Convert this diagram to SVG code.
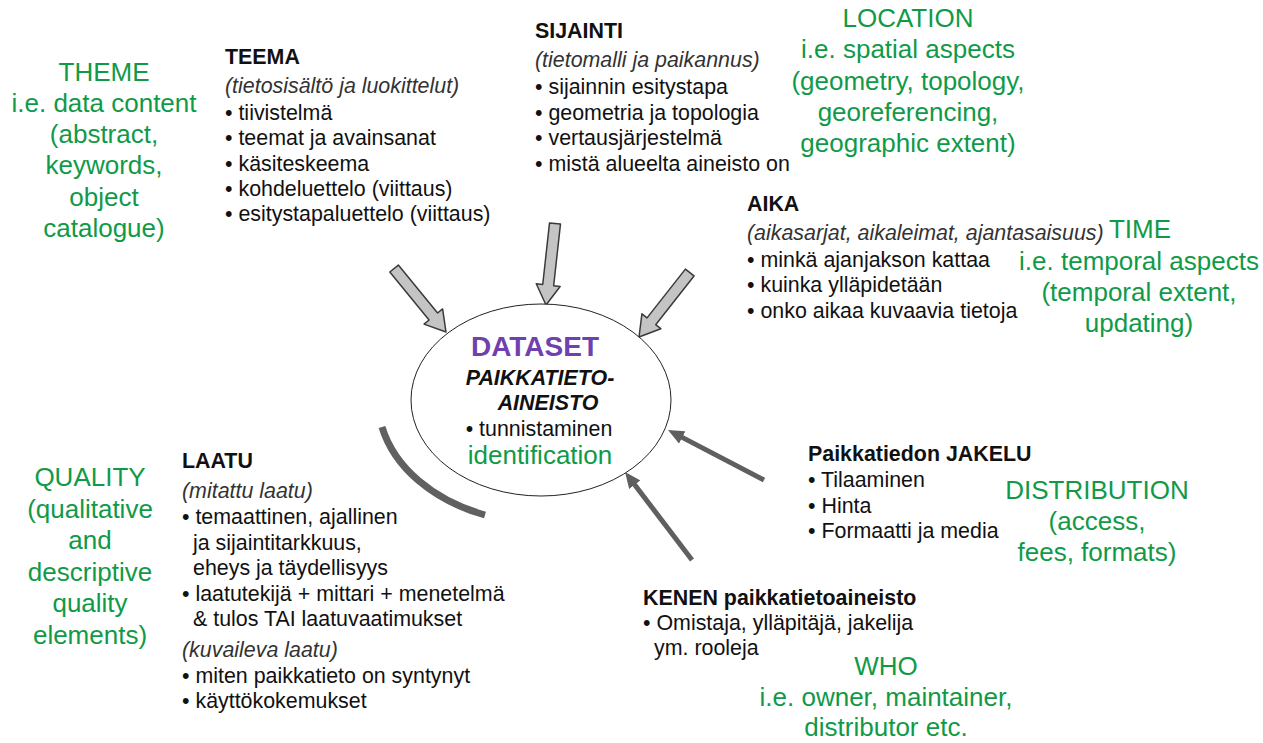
<svg xmlns="http://www.w3.org/2000/svg" width="1263" height="743" viewBox="0 0 1263 743">
<style>
.b{font-family:"Liberation Sans",Arial,sans-serif;font-size:21.4px;fill:#111}
.h{font-weight:bold}
.i{font-style:italic;fill:#333}
.g{font-family:"Liberation Sans",Arial,sans-serif;font-size:26px;fill:#109a48;text-anchor:middle}
.ln{stroke:#5f5f5f;stroke-width:5;fill:none}
</style>
<defs>
<polygon id="blk" points="-82,-5.5 -20,-5.5 -20,-12 0,0 -20,12 -20,5.5 -82,5.5" fill="#c4c4c4" stroke="#3a3a3a" stroke-width="1.5" stroke-linejoin="round"/>
<marker id="ah" markerUnits="userSpaceOnUse" markerWidth="18" markerHeight="14" refX="6" refY="7" orient="auto">
<path d="M0,0 L16,7 L0,14 z" fill="#5f5f5f"/>
</marker>
</defs>
<rect width="1263" height="743" fill="#fff"/>

<g id="connectors">
<use href="#blk" transform="translate(446,332) rotate(50.7)"/>
<use href="#blk" transform="translate(546,305) rotate(96.3)"/>
<use href="#blk" transform="translate(639,337) rotate(128.2)"/>
<line class="ln" x1="764" y1="480" x2="676.9" y2="434.6" marker-end="url(#ah)"/>
<line class="ln" x1="692" y1="560" x2="631.1" y2="480" marker-end="url(#ah)"/>
<path d="M382,427 A165,123 0 0 0 485,515" fill="none" stroke="#606060" stroke-width="7"/>
</g>

<g id="node-dataset">
<ellipse cx="541" cy="400" rx="130" ry="96" fill="#fff" stroke="#222" stroke-width="1"/>
<text x="535" y="356" font-family="Liberation Sans,Arial,sans-serif" font-size="28" font-weight="bold" fill="#7040b0" text-anchor="middle">DATASET</text>
<text class="b h" x="540" y="385" font-style="italic" text-anchor="middle">PAIKKATIETO-</text>
<text class="b h" x="548" y="410" font-style="italic" text-anchor="middle">AINEISTO</text>
<text class="b" x="539" y="436" text-anchor="middle">• tunnistaminen</text>
<text class="g" x="540" y="464">identification</text>
</g>

<g id="node-teema">
<text class="b h" x="225" y="64">TEEMA</text>
<text class="b i" x="225" y="93">(tietosisältö ja luokittelut)</text>
<text class="b" x="225" y="120">• tiivistelmä</text>
<text class="b" x="225" y="145">• teemat ja avainsanat</text>
<text class="b" x="225" y="171">• käsiteskeema</text>
<text class="b" x="225" y="196">• kohdeluettelo (viittaus)</text>
<text class="b" x="225" y="221">• esitystapaluettelo (viittaus)</text>
</g>

<g id="node-sijainti">
<text class="b h" x="535" y="38">SIJAINTI</text>
<text class="b i" x="535" y="67">(tietomalli ja paikannus)</text>
<text class="b" x="535" y="94">• sijainnin esitystapa</text>
<text class="b" x="535" y="120">• geometria ja topologia</text>
<text class="b" x="535" y="145">• vertausjärjestelmä</text>
<text class="b" x="535" y="171">• mistä alueelta aineisto on</text>
</g>

<g id="node-aika">
<text class="b h" x="747" y="211">AIKA</text>
<text class="b i" x="747" y="240">(aikasarjat, aikaleimat, ajantasaisuus)</text>
<text class="b" x="747" y="267">• minkä ajanjakson kattaa</text>
<text class="b" x="747" y="292">• kuinka ylläpidetään</text>
<text class="b" x="747" y="318">• onko aikaa kuvaavia tietoja</text>
</g>

<g id="node-laatu">
<text class="b h" x="182" y="468">LAATU</text>
<text class="b i" x="182" y="498">(mitattu laatu)</text>
<text class="b" x="182" y="524">• temaattinen, ajallinen</text>
<text class="b" x="193" y="550">ja sijaintitarkkuus,</text>
<text class="b" x="193" y="575">eheys ja täydellisyys</text>
<text class="b" x="182" y="601">• laatutekijä + mittari + menetelmä</text>
<text class="b" x="193" y="626">&amp; tulos TAI laatuvaatimukset</text>
<text class="b i" x="182" y="657">(kuvaileva laatu)</text>
<text class="b" x="182" y="683">• miten paikkatieto on syntynyt</text>
<text class="b" x="182" y="708">• käyttökokemukset</text>
</g>

<g id="node-jakelu">
<text class="b h" x="808" y="461">Paikkatiedon JAKELU</text>
<text class="b" x="808" y="487">• Tilaaminen</text>
<text class="b" x="808" y="513">• Hinta</text>
<text class="b" x="808" y="538">• Formaatti ja media</text>
</g>

<g id="node-kenen">
<text class="b h" x="643" y="605">KENEN paikkatietoaineisto</text>
<text class="b" x="643" y="630">• Omistaja, ylläpitäjä, jakelija</text>
<text class="b" x="654" y="655">ym. rooleja</text>
</g>

<g id="label-theme">
<text class="g" x="104" y="81">THEME</text>
<text class="g" x="104" y="112">i.e. data content</text>
<text class="g" x="104" y="143">(abstract,</text>
<text class="g" x="104" y="174">keywords,</text>
<text class="g" x="104" y="206">object</text>
<text class="g" x="104" y="237">catalogue)</text>
</g>

<g id="label-location">
<text class="g" x="908" y="27">LOCATION</text>
<text class="g" x="908" y="58">i.e. spatial aspects</text>
<text class="g" x="908" y="90">(geometry, topology,</text>
<text class="g" x="908" y="121">georeferencing,</text>
<text class="g" x="908" y="152">geographic extent)</text>
</g>

<g id="label-time">
<text class="g" x="1140" y="238">TIME</text>
<text class="g" x="1139" y="270">i.e. temporal aspects</text>
<text class="g" x="1139" y="301">(temporal extent,</text>
<text class="g" x="1139" y="332">updating)</text>
</g>

<g id="label-quality">
<text class="g" x="90" y="486">QUALITY</text>
<text class="g" x="90" y="518">(qualitative</text>
<text class="g" x="90" y="549">and</text>
<text class="g" x="90" y="581">descriptive</text>
<text class="g" x="90" y="612">quality</text>
<text class="g" x="90" y="644">elements)</text>
</g>

<g id="label-distribution">
<text class="g" x="1097" y="499">DISTRIBUTION</text>
<text class="g" x="1097" y="530">(access,</text>
<text class="g" x="1097" y="561">fees, formats)</text>
</g>

<g id="label-who">
<text class="g" x="886" y="675">WHO</text>
<text class="g" x="886" y="706">i.e. owner, maintainer,</text>
<text class="g" x="886" y="736">distributor etc.</text>
</g>
</svg>
